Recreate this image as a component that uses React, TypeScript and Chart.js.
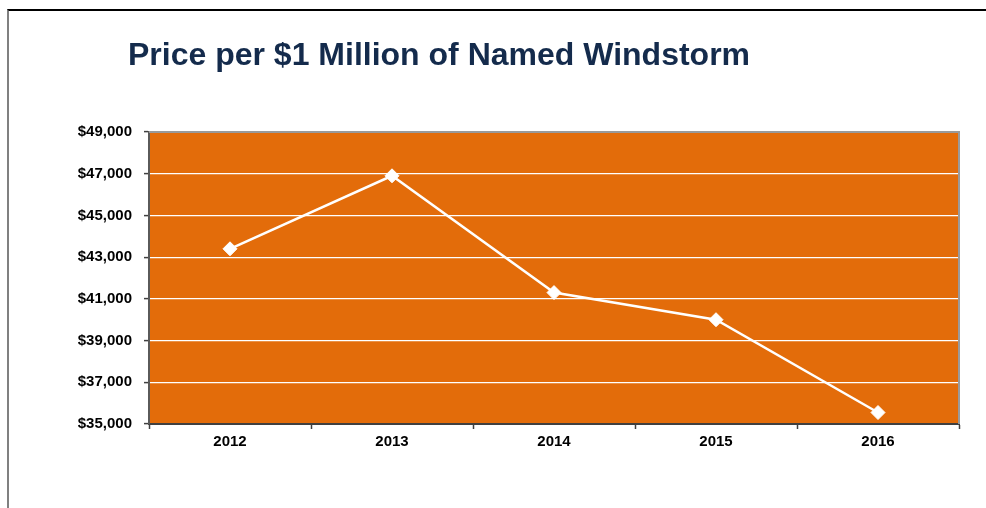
import React, { useEffect, useRef } from "react";
import { Chart, registerables } from "chart.js";

Chart.register(...registerables);

const TITLE = "Price per $1 Million of Named Windstorm";
const YEARS = ["2012", "2013", "2014", "2015", "2016"];
const PRICES = [43400, 46900, 41300, 40000, 35550];
const Y_MIN = 35000;
const Y_MAX = 49000;
const Y_STEP = 2000;

const FONT = "'Liberation Sans', Arial, Helvetica, sans-serif";

const plotPlugin = {
  id: "plotDecor",
  beforeDraw(chart: any) {
    const { ctx, chartArea } = chart;
    ctx.save();
    ctx.fillStyle = "#E36C0A";
    ctx.fillRect(chartArea.left, chartArea.top, chartArea.right - chartArea.left, chartArea.bottom - chartArea.top);
    ctx.restore();
  },
  afterDraw(chart: any) {
    const { ctx, chartArea } = chart;
    ctx.save();
    ctx.strokeStyle = "#9a9a9a";
    ctx.lineWidth = 2;
    ctx.beginPath();
    ctx.moveTo(chartArea.left, chartArea.top);
    ctx.lineTo(chartArea.right, chartArea.top);
    ctx.lineTo(chartArea.right, chartArea.bottom);
    ctx.stroke();
    ctx.fillStyle = "#142B4C";
    ctx.font = `bold 32px ${FONT}`;
    ctx.textBaseline = "alphabetic";
    ctx.textAlign = "left";
    ctx.fillText(TITLE, 128, 65);
    ctx.restore();
  },
};

export default function App() {
  const ref = useRef<HTMLCanvasElement | null>(null);
  useEffect(() => {
    if (!ref.current) return;
    const chart = new Chart(ref.current, {
      type: "line",
      data: {
        labels: YEARS,
        datasets: [
          {
            data: PRICES,
            borderColor: "#ffffff",
            borderWidth: 2.5,
            pointStyle: "rectRot",
            pointRadius: 7,
            pointBackgroundColor: "#ffffff",
            pointBorderColor: "#ffffff",
            pointBorderWidth: 1,
            tension: 0,
          },
        ],
      },
      options: {
        animation: false,
        responsive: false,
        devicePixelRatio: 1,
        layout: { padding: { top: 132, right: 27, left: 0, bottom: 0 } },
        plugins: { legend: { display: false }, tooltip: { enabled: false }, title: { display: false } },
        scales: {
          x: {
            type: "category",
            offset: true,
            grid: { drawOnChartArea: false, offset: true, tickLength: 5, tickColor: "#404040", tickWidth: 1.5 },
            border: { color: "#404040", width: 2 },
            ticks: { color: "#000", font: { family: FONT, size: 15, weight: "bold" }, padding: 4, maxRotation: 0 },
            afterFit(scale: any) {
              scale.height = 84;
            },
          },
          y: {
            min: Y_MIN,
            max: Y_MAX,
            grid: {
              color: (c: any) => (c.tick && c.tick.value === Y_MAX ? "rgba(0,0,0,0)" : "#ffffff"),
              lineWidth: 1.2,
              tickLength: 5,
              tickColor: "#404040",
              tickWidth: 1.5,
            },
            border: { color: "#5a5a5a", width: 2 },
            ticks: {
              stepSize: Y_STEP,
              color: "#000",
              font: { family: FONT, size: 15, weight: "bold" },
              padding: 12,
              callback: (v: any) => "$" + Number(v).toLocaleString("en-US"),
            },
            afterFit(scale: any) {
              scale.width = 149;
            },
          },
        },
      },
      plugins: [plotPlugin],
    });
    return () => chart.destroy();
  }, []);
  return (
    <div style={{ position: "fixed", left: 0, top: 0, width: 986, height: 508, background: "#fff" }}>
      <div
        style={{
          position: "absolute",
          left: 7,
          top: 9,
          width: 979,
          height: 499,
          borderTop: "2px solid #000",
          borderLeft: "2px solid #808080",
          boxSizing: "border-box",
        }}
      />
      <canvas ref={ref} width={986} height={508} style={{ position: "absolute", left: 0, top: 0 }} />
    </div>
  );
}
